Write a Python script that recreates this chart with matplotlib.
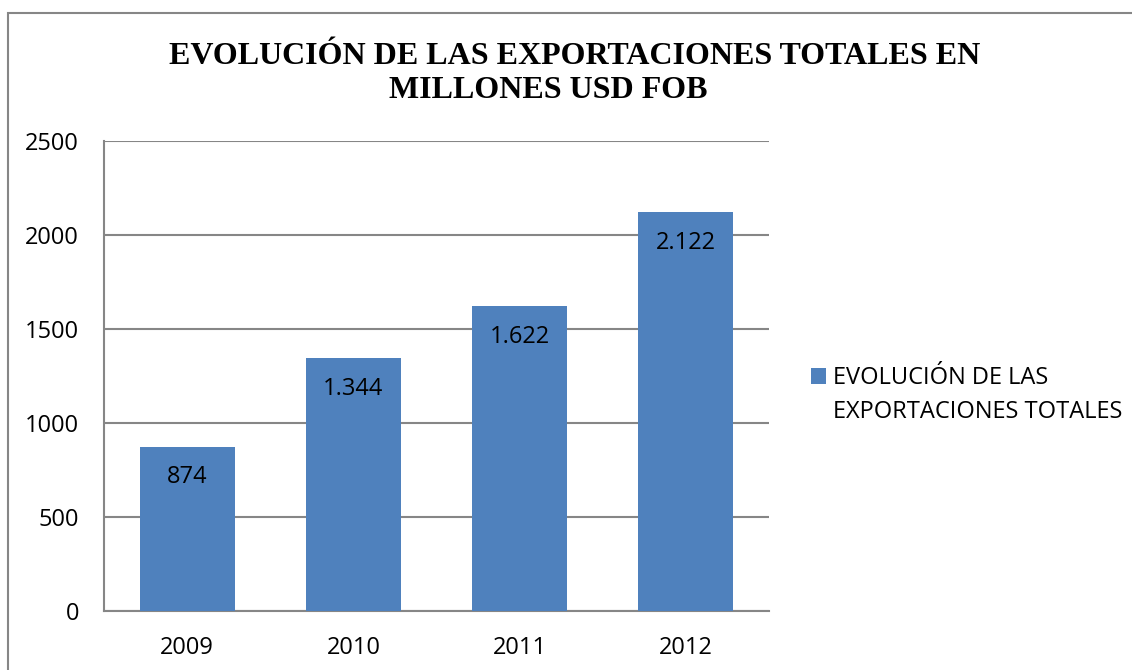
import matplotlib.pyplot as plt
from matplotlib.patches import Rectangle

# datos
years = ['2009', '2010', '2011', '2012']
exports = [874, 1344, 1622, 2122]
value_labels = ['874', '1.344', '1.622', '2.122']
series_name = ['EVOLUCIÓN DE LAS', 'EXPORTACIONES TOTALES']
y_ticks = [0, 500, 1000, 1500, 2000, 2500]

bar_color = '#4F81BD'
grid_color = '#868686'

plt.rcParams['font.family'] = ['Open Sans', 'DejaVu Sans']

fig = plt.figure(figsize=(11.32, 6.7), dpi=100)
W, H = 1132, 670
ax = fig.add_axes([104 / W, (H - 611) / H, (769 - 104) / W, (611 - 141) / H])

bars = ax.bar(years, exports, width=0.57, color=bar_color, zorder=3)

for rect, lab in zip(bars, value_labels):
    ax.annotate(lab, (rect.get_x() + rect.get_width() / 2, rect.get_height()),
                xytext=(0, -22), textcoords='offset points',
                ha='center', va='center', fontsize=17, color='black', zorder=4)

ax.set_ylim(0, 2500)
ax.set_xlim(-0.5, 3.5)
ax.set_yticks(y_ticks)
ax.yaxis.grid(True, color=grid_color, linewidth=1.5, zorder=0)
ax.set_axisbelow(True)
for side in ['top', 'right']:
    ax.spines[side].set_visible(False)
for side in ['left', 'bottom']:
    ax.spines[side].set_color(grid_color)
    ax.spines[side].set_linewidth(1.5)
ax.tick_params(axis='both', length=0, labelsize=17, colors='black')
ax.tick_params(axis='y', pad=18)
ax.tick_params(axis='x', pad=18)

# titulo
fig.text(575 / W, 1 - 56 / H, 'EVOLUCIÓN DE LAS EXPORTACIONES TOTALES EN',
         ha='center', va='center', fontsize=23, fontweight='bold',
         family=['Liberation Serif', 'DejaVu Serif'])
fig.text(548 / W, 1 - 91 / H, 'MILLONES USD FOB',
         ha='center', va='center', fontsize=23, fontweight='bold',
         family=['Liberation Serif', 'DejaVu Serif'])

# leyenda (la segunda linea del nombre va como texto aparte)
leg = fig.legend(handles=[bars], labels=[series_name[0]], loc='center left',
                 bbox_to_anchor=(811 / W, 1 - 378 / H), frameon=False,
                 fontsize=17, handlelength=0.65, handleheight=0.65,
                 handletextpad=0.3, borderpad=0, borderaxespad=0)
fig.text(833 / W, 1 - 412 / H, series_name[1], ha='left', va='center', fontsize=17)

# borde del grafico
fig.patches.append(Rectangle((8 / W, -0.1), 1.2, 1 - 13 / H + 0.1,
                             transform=fig.transFigure, fill=False,
                             edgecolor=grid_color, linewidth=1.5))

fig.savefig('out.png', dpi=100)
